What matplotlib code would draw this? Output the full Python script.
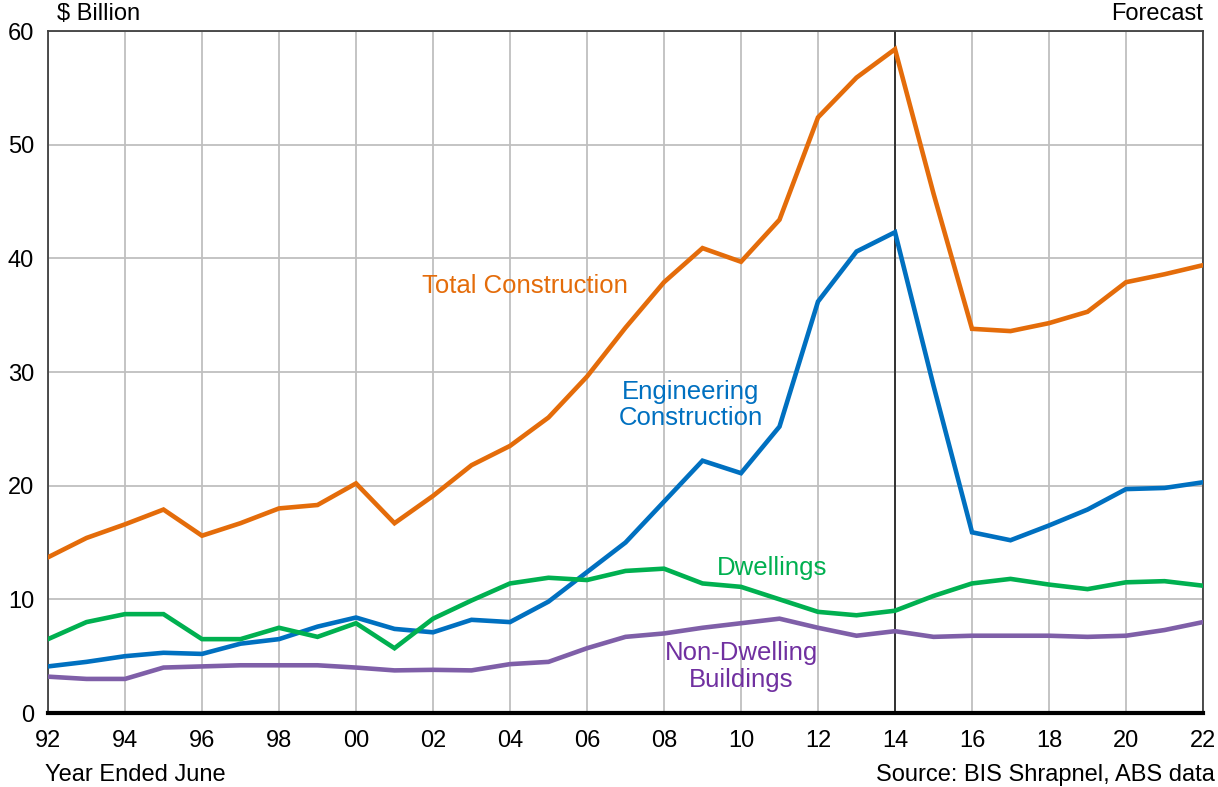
import matplotlib
matplotlib.use('Agg')
import matplotlib.pyplot as plt

plt.rcParams['font.family'] = ['Liberation Sans', 'DejaVu Sans']

years = list(range(1992, 2023))

total = [13.7, 15.4, 16.6, 17.9, 15.6, 16.7, 18.0, 18.3, 20.2, 16.7,
         19.1, 21.8, 23.5, 26.0, 29.6, 33.9, 37.9, 40.9, 39.7, 43.4,
         52.4, 55.9, 58.4, 45.7, 33.8, 33.6, 34.3, 35.3, 37.9, 38.6, 39.4]
engineering = [4.1, 4.5, 5.0, 5.3, 5.2, 6.1, 6.5, 7.6, 8.4, 7.4,
               7.1, 8.2, 8.0, 9.8, 12.4, 15.0, 18.6, 22.2, 21.1, 25.2,
               36.2, 40.6, 42.3, 28.8, 15.9, 15.2, 16.5, 17.9, 19.7, 19.8, 20.3]
dwellings = [6.5, 8.0, 8.7, 8.7, 6.5, 6.5, 7.5, 6.7, 7.9, 5.7,
             8.3, 9.9, 11.4, 11.9, 11.7, 12.5, 12.7, 11.4, 11.1, 10.0,
             8.9, 8.6, 9.0, 10.3, 11.4, 11.8, 11.3, 10.9, 11.5, 11.6, 11.2]
non_dwelling = [3.2, 3.0, 3.0, 4.0, 4.1, 4.2, 4.2, 4.2, 4.0, 3.75,
                3.8, 3.75, 4.3, 4.5, 5.7, 6.7, 7.0, 7.5, 7.9, 8.3,
                7.5, 6.8, 7.2, 6.7, 6.8, 6.8, 6.8, 6.7, 6.8, 7.3, 8.0]

forecast_start = 2014

ORANGE = '#E46C0A'
BLUE = '#0070C0'
GREEN = '#00B050'
PURPLE = '#7F5FA8'

fig = plt.figure(figsize=(12.18, 7.87), dpi=100)
ax = fig.add_axes([0.0394, 0.094, 0.9483, 0.8666])

ax.set_xlim(1992, 2022)
ax.set_ylim(0, 60)
ax.set_xticks(range(1992, 2023, 2))
ax.set_xticklabels([f"{y % 100:02d}" for y in range(1992, 2023, 2)])
ax.set_yticks(range(0, 61, 10))
ax.grid(True, color='#BFBFBF', linewidth=1.3)
ax.set_axisbelow(True)
ax.tick_params(length=0, labelsize=17, pad=12)
ax.tick_params(axis='y', pad=10)

for s in ['top', 'right', 'left']:
    ax.spines[s].set_color('#404040')
    ax.spines[s].set_linewidth(1.3)
ax.spines['bottom'].set_color('black')
ax.spines['bottom'].set_linewidth(3)

ax.axvline(forecast_start, color='#262626', linewidth=1.3, zorder=2)

lw = 3.3
ax.plot(years, total, color=ORANGE, lw=lw, zorder=3, solid_joinstyle='miter')
ax.plot(years, engineering, color=BLUE, lw=lw, zorder=3, solid_joinstyle='miter')
ax.plot(years, dwellings, color=GREEN, lw=lw, zorder=3, solid_joinstyle='miter')
ax.plot(years, non_dwelling, color=PURPLE, lw=lw, zorder=3, solid_joinstyle='miter')

fs = 18.5
ax.text(2004.4, 37.6, "Total Construction", color=ORANGE, fontsize=fs,
        ha='center', va='center')
ax.text(2008.7, 27.1, "Engineering\nConstruction", color=BLUE, fontsize=fs,
        ha='center', va='center', linespacing=1.15)
ax.text(2010.8, 12.75, "Dwellings", color=GREEN, fontsize=fs,
        ha='center', va='center')
ax.text(2010.0, 4.1, "Non-Dwelling\nBuildings", color='#7030A0', fontsize=fs,
        ha='center', va='center', linespacing=1.15)

fig.text(57 / 1218, 1 - 14 / 787, "$ Billion", fontsize=17, ha='left', va='center')
fig.text(1203 / 1218, 1 - 14 / 787, "Forecast", fontsize=17, ha='right', va='center')
fig.text(45 / 1218, 1 - 775 / 787, "Year Ended June", fontsize=17, ha='left', va='center')
fig.text(1215 / 1218, 1 - 775 / 787, "Source: BIS Shrapnel, ABS data", fontsize=17,
         ha='right', va='center')

fig.savefig('out.png', dpi=100, facecolor='white')
